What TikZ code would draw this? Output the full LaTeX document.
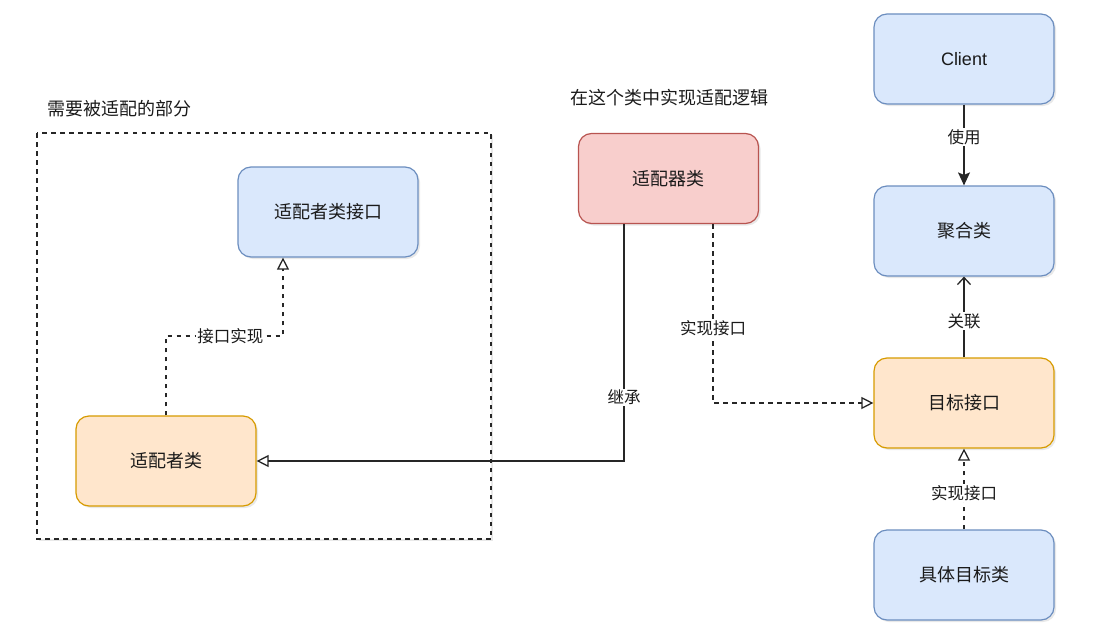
\documentclass[tikz,border=0pt]{standalone}
\usepackage{fontspec}
\setmainfont{Noto Sans CJK SC}
\newfontfamily\latinfont{Liberation Sans}
\usetikzlibrary{arrows.meta,shadows}
\definecolor{bluefill}{HTML}{DAE8FC}
\definecolor{bluedraw}{HTML}{6C8EBF}
\definecolor{orfill}{HTML}{FFE6CC}
\definecolor{ordraw}{HTML}{D79B00}
\definecolor{redfill}{HTML}{F8CECC}
\definecolor{reddraw}{HTML}{B85450}
\definecolor{txt}{HTML}{1A1A1A}
\tikzset{
  box/.style={draw, line width=1.2pt, rounded corners=13pt, minimum width=180pt, minimum height=90pt,
    inner sep=0pt, font=\fontsize{18}{21}\selectfont, text=txt,
    drop shadow={opacity=0.18, shadow xshift=2pt, shadow yshift=-2pt}},
  bluebox/.style={box, fill=bluefill, draw=bluedraw},
  orbox/.style={box, fill=orfill, draw=ordraw},
  redbox/.style={box, fill=redfill, draw=reddraw},
  conn/.style={line width=1.3pt, draw=black!85},
  dashconn/.style={conn, dash pattern=on 4.5pt off 4.5pt},
  realize/.style={-{Triangle[open, length=12pt, width=12pt, line width=1.3pt]}},
  filled/.style={-{Stealth[length=13pt, width=12pt, inset=2.5pt]}},
  openarr/.style={-{Straight Barb[length=7pt, width=13pt, line width=1.3pt]}},
  elabel/.style={fill=white, inner sep=1pt, font=\fontsize{16.5}{19}\selectfont, text=txt},
  title/.style={font=\fontsize{18}{21}\selectfont, text=txt, inner sep=0pt}
}
\begin{document}
\begin{tikzpicture}[x=1pt, y=-1pt]
\useasboundingbox (0,0) rectangle (1097,634);
% dashed group
\draw[line width=1.3pt, dash pattern=on 4.5pt off 4.5pt, draw=black!85,
  drop shadow={opacity=0.18, shadow xshift=2pt, shadow yshift=-2pt}, fill=white]
  (37,133) rectangle (491,539);
\node[title, anchor=west] (t1) at (47,109) {需要被适配的部分};
\node[title] (t2) at (669,98) {在这个类中实现适配逻辑};

\node[bluebox] (client) at (964,59) {\latinfont Client};
\node[bluebox] (agg) at (964,231) {聚合类};
\node[orbox] (target) at (964,403) {目标接口};
\node[bluebox] (concrete) at (964,575) {具体目标类};
\node[redbox] (adapter) at (668.5,178.5) {适配器类};
\node[bluebox] (adapteeif) at (328,212) {适配者类接口};
\node[orbox] (adaptee) at (166,461) {适配者类};

\coordinate (c1) at (624,461);
\coordinate (c2) at (713,403);
\coordinate (c3) at (166,336);
\coordinate (c4) at (283,336);

\draw[conn, filled] (client) -- node[elabel, pos=0.4] {使用} (agg);
\draw[conn, openarr] (target) -- node[elabel, pos=0.45] {关联} (agg);
\draw[dashconn, realize] (concrete) -- node[elabel, pos=0.45] {实现接口} (target);
\draw[conn, realize] (adapter.south -| c1) -- node[elabel, pos=0.73] {继承} (c1) -- (adaptee.east);
\draw[dashconn, realize] (adapter.south -| c2) -- node[elabel, pos=0.58] {实现接口} (c2) -- (target.west);
\draw[dashconn, realize] (adaptee.north) -- (c3) -- node[elabel, pos=0.55] {接口实现} (c4) -- (adapteeif.south -| c4);
\end{tikzpicture}
\end{document}
